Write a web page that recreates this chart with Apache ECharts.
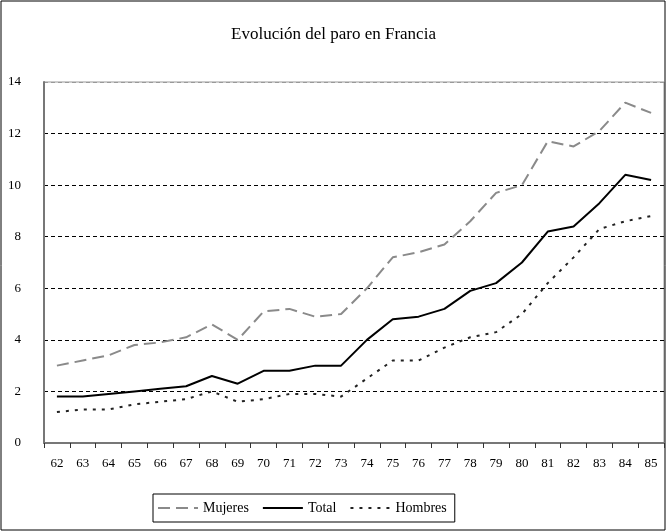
<!DOCTYPE html>
<html>
<head>
<meta charset="utf-8">
<script src="https://cdn.jsdelivr.net/npm/echarts@6/dist/echarts.min.js"></script>
<style>
	html, body { margin: 0; padding: 0; background: #fff; }
	#paro { width: 667px; height: 532px; }
</style>
</head>
<body>
<div id="paro"></div>
<script>
// datos
var years = ['62', '63', '64', '65', '66', '67', '68', '69', '70', '71', '72', '73',
	'74', '75', '76', '77', '78', '79', '80', '81', '82', '83', '84', '85'];
var mujeres = [3.0, 3.2, 3.4, 3.8, 3.9, 4.1, 4.6, 4.0, 5.1, 5.2, 4.9, 5.0,
	6.0, 7.2, 7.4, 7.7, 8.6, 9.7, 10.0, 11.7, 11.5, 12.1, 13.2, 12.8];
var total = [1.8, 1.8, 1.9, 2.0, 2.1, 2.2, 2.6, 2.3, 2.8, 2.8, 3.0, 3.0,
	4.0, 4.8, 4.9, 5.2, 5.9, 6.2, 7.0, 8.2, 8.4, 9.3, 10.4, 10.2];
var hombres = [1.2, 1.3, 1.3, 1.5, 1.6, 1.7, 2.0, 1.6, 1.7, 1.9, 1.9, 1.8,
	2.5, 3.2, 3.2, 3.7, 4.1, 4.3, 5.0, 6.2, 7.2, 8.3, 8.6, 8.8];
var yTicks = [0, 2, 4, 6, 8, 10, 12, 14];

var font = '"Liberation Serif", "DejaVu Serif", serif';

var myChart = echarts.init(document.getElementById('paro'));
var option = {
	animation: false,
	backgroundColor: '#fff',
	textStyle: { fontFamily: font },
	title: {
		text: 'Evolución del paro en Francia',
		left: 'center',
		top: 21,
		textStyle: { fontFamily: font, fontSize: 17, fontWeight: 'normal', color: '#000' }
	},
	graphic: [{
		type: 'rect',
		shape: { x: 1, y: 1, width: 664, height: 529 },
		style: { fill: null, stroke: '#000', lineWidth: 1 },
		silent: true
	}],
	legend: {
		bottom: 10,
		left: 153,
		padding: [7, 8, 7, 4],
		borderColor: '#000',
		borderWidth: 1,
		itemWidth: 40,
		itemHeight: 12,
		itemGap: 13,
		itemStyle: { opacity: 0 },
		textStyle: { fontFamily: font, fontSize: 14, color: '#000' },
		data: ['Mujeres', 'Total', 'Hombres']
	},
	grid: {
		left: 44,
		right: 3,
		top: 82,
		bottom: 89,
		show: true,
		borderColor: '#999',
		borderWidth: 1
	},
	xAxis: {
		type: 'category',
		boundaryGap: true,
		data: years,
		axisLine: { lineStyle: { color: '#777', width: 2 } },
		axisTick: { show: true, length: 5, lineStyle: { color: '#333' } },
		axisLabel: { fontFamily: font, fontSize: 13, color: '#000', margin: 14 }
	},
	yAxis: {
		type: 'value',
		min: yTicks[0],
		max: yTicks[yTicks.length - 1],
		interval: 2,
		axisLine: { show: true, lineStyle: { color: '#777', width: 2 } },
		axisTick: { show: false },
		axisLabel: { fontFamily: font, fontSize: 13, color: '#000', margin: 23 },
		splitLine: {
			show: true,
			lineStyle: {
				color: ['#000', '#000', '#000', '#000', '#000', '#000', '#000', '#999'],
				type: [4, 3],
				width: 1
			}
		}
	},
	series: [{
		name: 'Mujeres',
		type: 'line',
		symbol: 'none',
		data: mujeres,
		lineStyle: { color: '#8a8a8a', width: 2, type: [12, 6] },
		itemStyle: { color: '#8a8a8a' }
	}, {
		name: 'Total',
		type: 'line',
		symbol: 'none',
		data: total,
		lineStyle: { color: '#000', width: 2, type: 'solid' },
		itemStyle: { color: '#000' }
	}, {
		name: 'Hombres',
		type: 'line',
		symbol: 'none',
		data: hombres,
		lineStyle: { color: '#222', width: 2, type: [3, 6] },
		itemStyle: { color: '#222' }
	}]
};
myChart.setOption(option);
</script>
</body>
</html>
